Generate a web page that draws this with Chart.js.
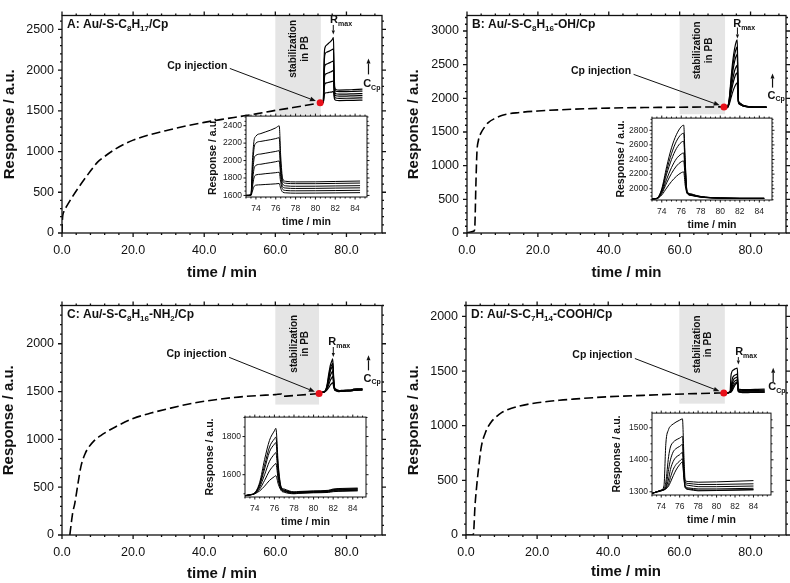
<!DOCTYPE html>
<html>
<head>
<meta charset="utf-8">
<script src="https://cdn.jsdelivr.net/npm/chart.js@4.4.0/dist/chart.umd.min.js"></script>
<style>
  body { margin: 0; background: #fff; }
  #wrap { position: relative; width: 790px; height: 583px; overflow: hidden; }
  canvas { position: absolute; }
</style>
</head>
<body>
<div id="wrap">
  <canvas id="mainA" width="395" height="290" style="left:0px;top:0px"></canvas>
  <canvas id="mainB" width="395" height="290" style="left:395px;top:0px"></canvas>
  <canvas id="mainC" width="395" height="293" style="left:0px;top:290px"></canvas>
  <canvas id="mainD" width="395" height="293" style="left:395px;top:290px"></canvas>
  <canvas id="insetA" width="172" height="124" style="left:201px;top:107px"></canvas>
  <canvas id="insetB" width="171" height="125" style="left:607px;top:109px"></canvas>
  <canvas id="insetC" width="172" height="123" style="left:200px;top:408px"></canvas>
  <canvas id="insetD" width="170" height="125" style="left:607px;top:404px"></canvas>
</div>
<script>
// ---- SAM formation / stabilization curves (dashed) ----
const tMainA = [0, 0.1, 0.5, 1.2, 3, 5, 8, 10, 12, 15, 20, 25, 30, 35, 40, 45, 50, 55, 60, 65, 70, 72.6];
const rMainA = [0, 150, 260, 320, 450, 580, 760, 870, 940, 1030, 1140, 1210, 1265, 1315, 1358, 1395, 1430, 1465, 1505, 1540, 1578, 1600];
const tMainB = [0, 1, 2, 2.2, 2.5, 2.8, 3.2, 4, 5, 6, 8, 10, 15, 20, 30, 40, 50, 60, 72.5];
const rMainB = [0, 15, 30, 80, 700, 1200, 1370, 1490, 1575, 1640, 1705, 1750, 1790, 1812, 1838, 1855, 1863, 1868, 1873];
const tMainC = [2.2, 2.6, 3, 3.6, 4.5, 5.3, 6.5, 7.6, 9, 10.9, 15, 20, 25, 30, 35, 40, 48, 55, 60, 61.8, 62, 65, 70, 72.3];
const rMainC = [0, 120, 230, 331, 540, 713, 850, 922, 985, 1040, 1130, 1218, 1275, 1322, 1365, 1398, 1437, 1458, 1468, 1475, 1450, 1458, 1472, 1480];
const tMainD = [0, 1, 2, 2.2, 2.5, 2.9, 3.5, 4.3, 5.5, 7, 8, 10, 12.6, 15, 20, 26.3, 30, 40, 50, 58.4, 65, 72.5];
const rMainD = [0, 0, 0, 50, 250, 411, 600, 806, 940, 1030, 1066, 1120, 1157, 1180, 1210, 1233, 1243, 1265, 1278, 1288, 1294, 1300];

// ---- Cp injection points (red dots) ----
const injTime = [72.6, 72.5, 72.3, 72.5];
const injResp = [1600, 1873, 1480, 1300];

// ---- Cp binding cycles (inset and main) ----
const tCycA = [73.0, 73.5, 73.65, 73.8, 74.0, 74.5, 75.0, 75.5, 76.0, 76.35, 76.5, 76.7, 77.0, 78.0, 80.0, 82.0, 84.5];
const cycA1 = [1600, 1605, 2000, 2220, 2280, 2310, 2330, 2350, 2375, 2398, 2050, 1790, 1762, 1755, 1756, 1760, 1765];
const cycA2 = [1600, 1604, 1900, 2130, 2200, 2220, 2230, 2240, 2252, 2262, 1950, 1765, 1740, 1735, 1735, 1738, 1742];
const cycA3 = [1600, 1603, 1830, 2010, 2060, 2075, 2085, 2095, 2105, 2113, 1880, 1730, 1710, 1705, 1706, 1709, 1712];
const cycA4 = [1600, 1602, 1760, 1900, 1945, 1958, 1968, 1977, 1987, 1995, 1820, 1700, 1685, 1680, 1681, 1684, 1687];
const cycA5 = [1600, 1601, 1700, 1800, 1835, 1843, 1850, 1855, 1861, 1866, 1750, 1670, 1657, 1653, 1654, 1656, 1659];
const cycA6 = [1600, 1600, 1650, 1700, 1718, 1722, 1726, 1729, 1733, 1737, 1680, 1638, 1630, 1626, 1627, 1629, 1632];

const tCycB = [73.0, 73.5, 74.0, 74.5, 75.0, 75.5, 76.0, 76.25, 76.4, 76.6, 77.0, 77.5, 78.0, 79.0, 80.0, 82.0, 84.5];
const cycB1 = [1860, 1870, 2000, 2300, 2560, 2740, 2850, 2870, 2400, 1960, 1930, 1910, 1895, 1880, 1875, 1870, 1870];
const cycB2 = [1860, 1870, 1985, 2250, 2480, 2650, 2745, 2760, 2350, 1955, 1925, 1905, 1892, 1880, 1873, 1870, 1870];
const cycB3 = [1860, 1868, 1970, 2200, 2400, 2550, 2635, 2650, 2300, 1950, 1920, 1902, 1890, 1878, 1872, 1868, 1868];
const cycB4 = [1860, 1866, 1950, 2130, 2290, 2410, 2475, 2490, 2200, 1945, 1915, 1900, 1888, 1877, 1872, 1868, 1868];
const cycB5 = [1860, 1865, 1935, 2080, 2210, 2310, 2370, 2380, 2150, 1940, 1912, 1898, 1886, 1876, 1870, 1867, 1867];
const cycB6 = [1860, 1864, 1915, 2010, 2100, 2170, 2220, 2230, 2050, 1935, 1908, 1895, 1884, 1875, 1870, 1866, 1866];

const tCycC = [73.0, 73.5, 74.0, 74.5, 75.0, 75.5, 76.0, 76.15, 76.4, 76.7, 77.0, 77.5, 78.0, 78.5, 80.0, 81.5, 82.0, 83.0, 84.5];
const cycC1 = [1490, 1495, 1505, 1560, 1680, 1780, 1830, 1843, 1650, 1535, 1525, 1515, 1510, 1512, 1515, 1518, 1525, 1528, 1530];
const cycC2 = [1490, 1495, 1504, 1550, 1650, 1745, 1788, 1797, 1630, 1530, 1520, 1512, 1508, 1510, 1513, 1516, 1522, 1525, 1527];
const cycC3 = [1490, 1495, 1503, 1545, 1630, 1720, 1760, 1768, 1610, 1528, 1518, 1510, 1506, 1508, 1511, 1514, 1520, 1522, 1524];
const cycC4 = [1490, 1494, 1502, 1535, 1600, 1670, 1708, 1716, 1590, 1524, 1515, 1508, 1504, 1506, 1509, 1512, 1517, 1519, 1521];
const cycC5 = [1490, 1494, 1501, 1525, 1570, 1620, 1652, 1659, 1570, 1520, 1512, 1505, 1502, 1504, 1507, 1510, 1514, 1516, 1518];
const cycC6 = [1490, 1493, 1500, 1515, 1540, 1570, 1590, 1595, 1550, 1516, 1508, 1502, 1500, 1502, 1505, 1507, 1511, 1513, 1515];

const tCycD = [73.0, 73.5, 74.0, 74.3, 74.5, 74.8, 75.0, 75.3, 75.6, 76.0, 76.3, 76.45, 76.6, 77.0, 78.0, 80.0, 82.0, 84.0];
const cycD1 = [1295, 1300, 1305, 1320, 1450, 1495, 1505, 1512, 1518, 1524, 1528, 1420, 1335, 1332, 1330, 1331, 1333, 1335];
const cycD2 = [1295, 1300, 1305, 1310, 1330, 1410, 1440, 1455, 1462, 1468, 1473, 1380, 1330, 1326, 1323, 1323, 1324, 1325];
const cycD3 = [1295, 1300, 1305, 1308, 1315, 1370, 1400, 1425, 1435, 1442, 1448, 1370, 1325, 1320, 1316, 1316, 1317, 1318];
const cycD4 = [1295, 1300, 1304, 1307, 1312, 1340, 1370, 1395, 1408, 1416, 1423, 1360, 1318, 1312, 1309, 1309, 1310, 1311];
const cycD5 = [1295, 1299, 1303, 1306, 1310, 1325, 1345, 1370, 1385, 1396, 1403, 1350, 1314, 1309, 1305, 1305, 1306, 1307];
const cycD6 = [1295, 1299, 1303, 1306, 1309, 1318, 1330, 1350, 1368, 1385, 1393, 1345, 1312, 1307, 1303, 1304, 1305, 1306];

// ---- tick labels ----
const mainXTicks = [0, 20, 40, 60, 80];
const mainYTicksA = [0, 500, 1000, 1500, 2000, 2500];
const mainYTicksB = [0, 500, 1000, 1500, 2000, 2500, 3000];
const mainYTicksCD = [0, 500, 1000, 1500, 2000];
const insetXTicks = [74, 76, 78, 80, 82, 84];
const insetYTicksA = [1600, 1800, 2000, 2200, 2400];
const insetYTicksB = [2000, 2200, 2400, 2600, 2800];
const insetYTicksC = [1600, 1800];
const insetYTicksD = [1300, 1400, 1500];

const FF = '"Liberation Sans", Arial, Helvetica, sans-serif';
const INK = '#111';

function xy(t, r) {
    return t.map((v, i) => ({ x: v, y: r[i] }));
}

function rich(ctx, parts, x, y, size, align) {
    const big = 'bold ' + size + 'px ' + FF;
    const small = 'bold ' + Math.round(size * 0.65) + 'px ' + FF;
    let w = 0;
    parts.forEach(p => { ctx.font = p[1] ? small : big; w += ctx.measureText(p[0]).width; });
    let cx = align === 'right' ? x - w : (align === 'center' ? x - w / 2 : x);
    ctx.textAlign = 'left';
    ctx.textBaseline = 'middle';
    parts.forEach(p => {
        ctx.font = p[1] ? small : big;
        ctx.fillText(p[0], cx, p[1] ? y + size * 0.35 : y);
        cx += ctx.measureText(p[0]).width;
    });
}

function arrow(ctx, x0, y0, x1, y1, head) {
    const a = Math.atan2(y1 - y0, x1 - x0);
    const bx = x1 - head * Math.cos(a), by = y1 - head * Math.sin(a);
    ctx.beginPath();
    ctx.moveTo(x0, y0);
    ctx.lineTo(bx, by);
    ctx.stroke();
    ctx.beginPath();
    ctx.moveTo(x1, y1);
    ctx.lineTo(bx + head * 0.4 * Math.sin(a), by - head * 0.4 * Math.cos(a));
    ctx.lineTo(bx - head * 0.4 * Math.sin(a), by + head * 0.4 * Math.cos(a));
    ctx.closePath();
    ctx.fill();
}

// frame around the plot area with outward major/minor ticks on all four sides
const framePlugin = {
    id: 'frame',
    beforeDraw(chart, args, o) {
        if (!o.white) return;
        const a = chart.chartArea;
        chart.ctx.save();
        chart.ctx.fillStyle = '#fff';
        chart.ctx.fillRect(a.left, a.top, a.right - a.left, a.bottom - a.top);
        chart.ctx.restore();
    },
    afterDatasetsDraw(chart, args, o) {
        if (!o.xMinor) return;
        const { ctx, chartArea: a, scales: { x, y } } = chart;
        ctx.save();
        ctx.strokeStyle = INK;
        ctx.lineWidth = o.lw;
        ctx.strokeRect(a.left, a.top, a.right - a.left, a.bottom - a.top);
        ctx.beginPath();
        const isMajor = (v, m) => Math.abs(v / m - Math.round(v / m)) < 1e-6;
        for (let k = Math.ceil(x.min / o.xMinor - 1e-9); k * o.xMinor <= x.max + 1e-9; k++) {
            const v = k * o.xMinor;
            const len = isMajor(v, o.xMajor) ? o.maj : o.mnr;
            const px = x.getPixelForValue(v);
            ctx.moveTo(px, a.bottom); ctx.lineTo(px, a.bottom + len);
            ctx.moveTo(px, a.top); ctx.lineTo(px, a.top - len);
        }
        for (let k = Math.ceil(y.min / o.yMinor - 1e-9); k * o.yMinor <= y.max + 1e-9; k++) {
            const v = k * o.yMinor;
            const len = isMajor(v, o.yMajor) ? o.maj : o.mnr;
            const py = y.getPixelForValue(v);
            ctx.moveTo(a.left, py); ctx.lineTo(a.left - len, py);
            ctx.moveTo(a.right, py); ctx.lineTo(a.right + len, py);
        }
        ctx.stroke();
        ctx.restore();
    }
};

// shaded stabilization window and the text/arrow annotations of each main panel
const notesPlugin = {
    id: 'notes',
    beforeDatasetsDraw(chart, args, o) {
        if (!o.box) return;
        const { ctx, chartArea: a, scales: { x, y } } = chart;
        const X = v => x.getPixelForValue(v), Y = v => y.getPixelForValue(v);
        ctx.save();
        ctx.fillStyle = '#e5e5e5';
        ctx.fillRect(X(o.box[0]), a.top, X(o.box[1]) - X(o.box[0]), Y(o.box[2]) - a.top);
        ctx.fillStyle = INK;
        ctx.font = 'bold 10px ' + FF;
        ctx.textAlign = 'center';
        ctx.textBaseline = 'middle';
        [['stabilization', o.stab[0]], ['in PB', o.stab[1]]].forEach(s => {
            ctx.save();
            ctx.translate(X(s[1]), Y(o.stab[2]));
            ctx.rotate(-Math.PI / 2);
            ctx.fillText(s[0], 0, 0);
            ctx.restore();
        });
        ctx.restore();
    },
    afterDatasetsDraw(chart, args, o) {
        if (!o.title) return;
        const { ctx, chartArea: a, scales: { x, y } } = chart;
        const X = v => x.getPixelForValue(v), Y = v => y.getPixelForValue(v);
        ctx.save();
        ctx.fillStyle = INK;
        ctx.strokeStyle = INK;
        rich(ctx, o.title, a.left + 5, a.top + 9, 12, 'left');

        ctx.font = 'bold 10.5px ' + FF;
        ctx.textAlign = 'right';
        ctx.textBaseline = 'middle';
        ctx.fillText('Cp injection', X(o.inj[0]), Y(o.inj[1]));
        const sx = X(o.inj[2]), sy = Y(o.inj[3]);
        const dx = X(o.dot[0]), dy = Y(o.dot[1]);
        const L = Math.hypot(dx - sx, dy - sy);
        ctx.lineWidth = 1;
        arrow(ctx, sx, sy, dx - (dx - sx) / L * 4.5, dy - (dy - sy) / L * 4.5, 6);

        rich(ctx, [['R'], ['max', 1]], X(o.rmax[0]), Y(o.rmax[1]), 11, 'left');
        arrow(ctx, X(o.rmax[2]), Y(o.rmax[3]), X(o.rmax[2]), Y(o.rmax[4]), 4);

        ctx.lineWidth = 1.2;
        arrow(ctx, X(o.ccp[0]), Y(o.ccp[1]), X(o.ccp[0]), Y(o.ccp[2]), 5);
        rich(ctx, [['C'], ['Cp', 1]], X(o.ccp[3]), Y(o.ccp[4]), 11, 'left');
        ctx.restore();
    }
};

Chart.register(framePlugin, notesPlugin);

function mainChart(id, p) {
    const datasets = [{
        data: [{ x: p.dot[0], y: p.dot[1] }],
        showLine: false, pointRadius: 3.5, pointBackgroundColor: '#e8101a', pointBorderWidth: 0
    }];
    p.cycles.forEach(c => datasets.push({
        data: xy(p.tc, c), borderColor: '#000', borderWidth: 1.2, pointRadius: 0,
        cubicInterpolationMode: 'monotone'
    }));
    datasets.push({
        data: xy(p.t, p.r), borderColor: '#000', borderWidth: 1.6, borderDash: [9, 4],
        pointRadius: 0, cubicInterpolationMode: 'monotone'
    });

    new Chart(document.getElementById(id), {
        type: 'line',
        data: { datasets },
        options: {
            animation: false, responsive: false, devicePixelRatio: 1,
            layout: { padding: { top: p.pad[0], right: p.pad[1], bottom: 0, left: 0 } },
            plugins: {
                legend: { display: false }, tooltip: { enabled: false },
                frame: { xMinor: 4, xMajor: 20, yMinor: 100, yMajor: 500, maj: 4, mnr: 2, lw: 1.3 },
                notes: p.notes
            },
            scales: {
                x: {
                    type: 'linear', min: 0, max: 90,
                    afterFit: s => { s.height = p.xh; },
                    afterBuildTicks: s => { s.ticks = mainXTicks.map(v => ({ value: v })); },
                    grid: { display: false, drawTicks: false }, border: { display: false },
                    ticks: { padding: 10, color: INK, autoSkip: false, maxRotation: 0,
                        font: { family: FF, size: 12.5 }, callback: v => Number(v).toFixed(1) },
                    title: { display: true, text: 'time / min', color: INK,
                        font: { family: FF, size: 15, weight: 'bold' }, padding: { top: 0, bottom: p.xtp } }
                },
                y: {
                    type: 'linear', min: 0, max: p.ymax,
                    afterFit: s => { s.width = p.yw; },
                    afterBuildTicks: s => { s.ticks = p.yticks.map(v => ({ value: v })); },
                    grid: { display: false, drawTicks: false }, border: { display: false },
                    ticks: { padding: 8, color: INK, font: { family: FF, size: 12.5 }, callback: v => String(v) },
                    title: { display: true, text: 'Response / a.u.', color: INK,
                        font: { family: FF, size: 15, weight: 'bold' }, padding: { top: p.ytp, bottom: 0 } }
                }
            }
        }
    });
}

function insetChart(id, p) {
    const datasets = p.cycles.map(c => ({
        data: xy(p.tc, c), borderColor: '#000', borderWidth: 1, pointRadius: 0,
        cubicInterpolationMode: 'monotone'
    }));
    new Chart(document.getElementById(id), {
        type: 'line',
        data: { datasets },
        options: {
            animation: false, responsive: false, devicePixelRatio: 1,
            layout: { padding: { top: 6, right: 6, bottom: 0, left: 0 } },
            plugins: {
                legend: { display: false }, tooltip: { enabled: false },
                frame: { white: true, xMinor: 0.5, xMajor: 2, yMinor: p.yMinor, yMajor: p.yMajor, maj: 2.5, mnr: 1.5, lw: 1 }
            },
            scales: {
                x: {
                    type: 'linear', min: 73, max: p.xmax,
                    afterFit: s => { s.height = 34; },
                    afterBuildTicks: s => { s.ticks = insetXTicks.map(v => ({ value: v })); },
                    grid: { display: false, drawTicks: false }, border: { display: false },
                    ticks: { padding: 7, color: '#222', autoSkip: false, maxRotation: 0,
                        font: { family: FF, size: 8.5 }, callback: v => String(v) },
                    title: { display: true, text: 'time / min', color: INK,
                        font: { family: FF, size: 10.5, weight: 'bold' }, padding: { top: 0, bottom: 3 } }
                },
                y: {
                    type: 'linear', min: p.ymin, max: p.ymax,
                    afterFit: s => { s.width = 45; },
                    afterBuildTicks: s => { s.ticks = p.yticks.map(v => ({ value: v })); },
                    grid: { display: false, drawTicks: false }, border: { display: false },
                    ticks: { padding: 4, color: '#222', font: { family: FF, size: 8.5 }, callback: v => String(v) },
                    title: { display: true, text: 'Response / a.u.', color: INK,
                        font: { family: FF, size: 10.5, weight: 'bold' }, padding: { top: p.ytp, bottom: 0 } }
                }
            }
        }
    });
}

const cycA = [cycA1, cycA2, cycA3, cycA4, cycA5, cycA6];
const cycB = [cycB1, cycB2, cycB3, cycB4, cycB5, cycB6];
const cycC = [cycC1, cycC2, cycC3, cycC4, cycC5, cycC6];
const cycD = [cycD1, cycD2, cycD3, cycD4, cycD5, cycD6];

mainChart('mainA', {
    t: tMainA, r: rMainA, tc: tCycA, cycles: cycA, dot: [injTime[0], injResp[0]],
    ymax: 2670, yticks: mainYTicksA, pad: [5, 13], yw: 62, xh: 57, xtp: 8, ytp: 1,
    notes: {
        title: [['A: Au/-S-C'], ['8', 1], ['H'], ['17', 1], ['/Cp']],
        dot: [injTime[0], injResp[0]],
        box: [60, 72.8, 1450], stab: [65.1, 68.4, 2260],
        inj: [46.5, 2050, 47.2, 2020],
        rmax: [75.4, 2612, 76.3, 2554, 2436],
        ccp: [86.2, 1947, 2143, 84.7, 1825]
    }
});
mainChart('mainB', {
    t: tMainB, r: rMainB, tc: tCycB, cycles: cycB, dot: [injTime[1], injResp[1]],
    ymax: 3230, yticks: mainYTicksB, pad: [4, 3], yw: 72, xh: 57, xtp: 8, ytp: 10,
    notes: {
        title: [['B: Au/-S-C'], ['8', 1], ['H'], ['16', 1], ['-OH/Cp']],
        dot: [injTime[1], injResp[1]],
        box: [60, 72.8, 1764], stab: [65.0, 68.3, 2712],
        inj: [46.3, 2400, 47.0, 2356],
        rmax: [75.1, 3108, 76.3, 3052, 2888],
        ccp: [86.2, 2159, 2370, 84.8, 2042]
    }
});
mainChart('mainC', {
    t: tMainC, r: rMainC, tc: tCycC, cycles: cycC, dot: [injTime[2], injResp[2]],
    ymax: 2400, yticks: mainYTicksCD, pad: [15, 13], yw: 62, xh: 48, xtp: 0, ytp: 0,
    notes: {
        title: [['C: Au/-S-C'], ['8', 1], ['H'], ['16', 1], ['-NH'], ['2', 1], ['/Cp']],
        dot: [injTime[2], injResp[2]],
        box: [60, 72.3, 1364], stab: [65.2, 68.5, 2000],
        inj: [46.3, 1893, 47.0, 1858],
        rmax: [74.9, 2018, 76.3, 1966, 1861],
        ccp: [86.2, 1722, 1879, 84.8, 1636]
    }
});
mainChart('mainD', {
    t: tMainD, r: rMainD, tc: tCycD, cycles: cycD, dot: [injTime[3], injResp[3]],
    ymax: 2100, yticks: mainYTicksCD, pad: [15, 4], yw: 71, xh: 48, xtp: 2, ytp: 10,
    notes: {
        title: [['D: Au/-S-C'], ['7', 1], ['H'], ['14', 1], ['-COOH/Cp']],
        dot: [injTime[3], injResp[3]],
        box: [60, 72.8, 1202], stab: [64.9, 68.2, 1744],
        inj: [46.8, 1643, 47.5, 1615],
        rmax: [75.7, 1673, 76.6, 1628, 1561],
        ccp: [86.4, 1400, 1531, 85.0, 1354]
    }
});

insetChart('insetA', { tc: tCycA, cycles: cycA, xmax: 85.2, ymin: 1582, ymax: 2510, yticks: insetYTicksA, yMinor: 50, yMajor: 200, ytp: 6 });
insetChart('insetB', { tc: tCycB, cycles: cycB, xmax: 85.3, ymin: 1846, ymax: 2967, yticks: insetYTicksB, yMinor: 50, yMajor: 200, ytp: 8 });
insetChart('insetC', { tc: tCycC, cycles: cycC, xmax: 85.35, ymin: 1483, ymax: 1902, yticks: insetYTicksC, yMinor: 50, yMajor: 200, ytp: 4 });
insetChart('insetD', { tc: tCycD, cycles: cycD, xmax: 85.9, ymin: 1290, ymax: 1546, yticks: insetYTicksD, yMinor: 25, yMajor: 100, ytp: 4 });
</script>
</body>
</html>
